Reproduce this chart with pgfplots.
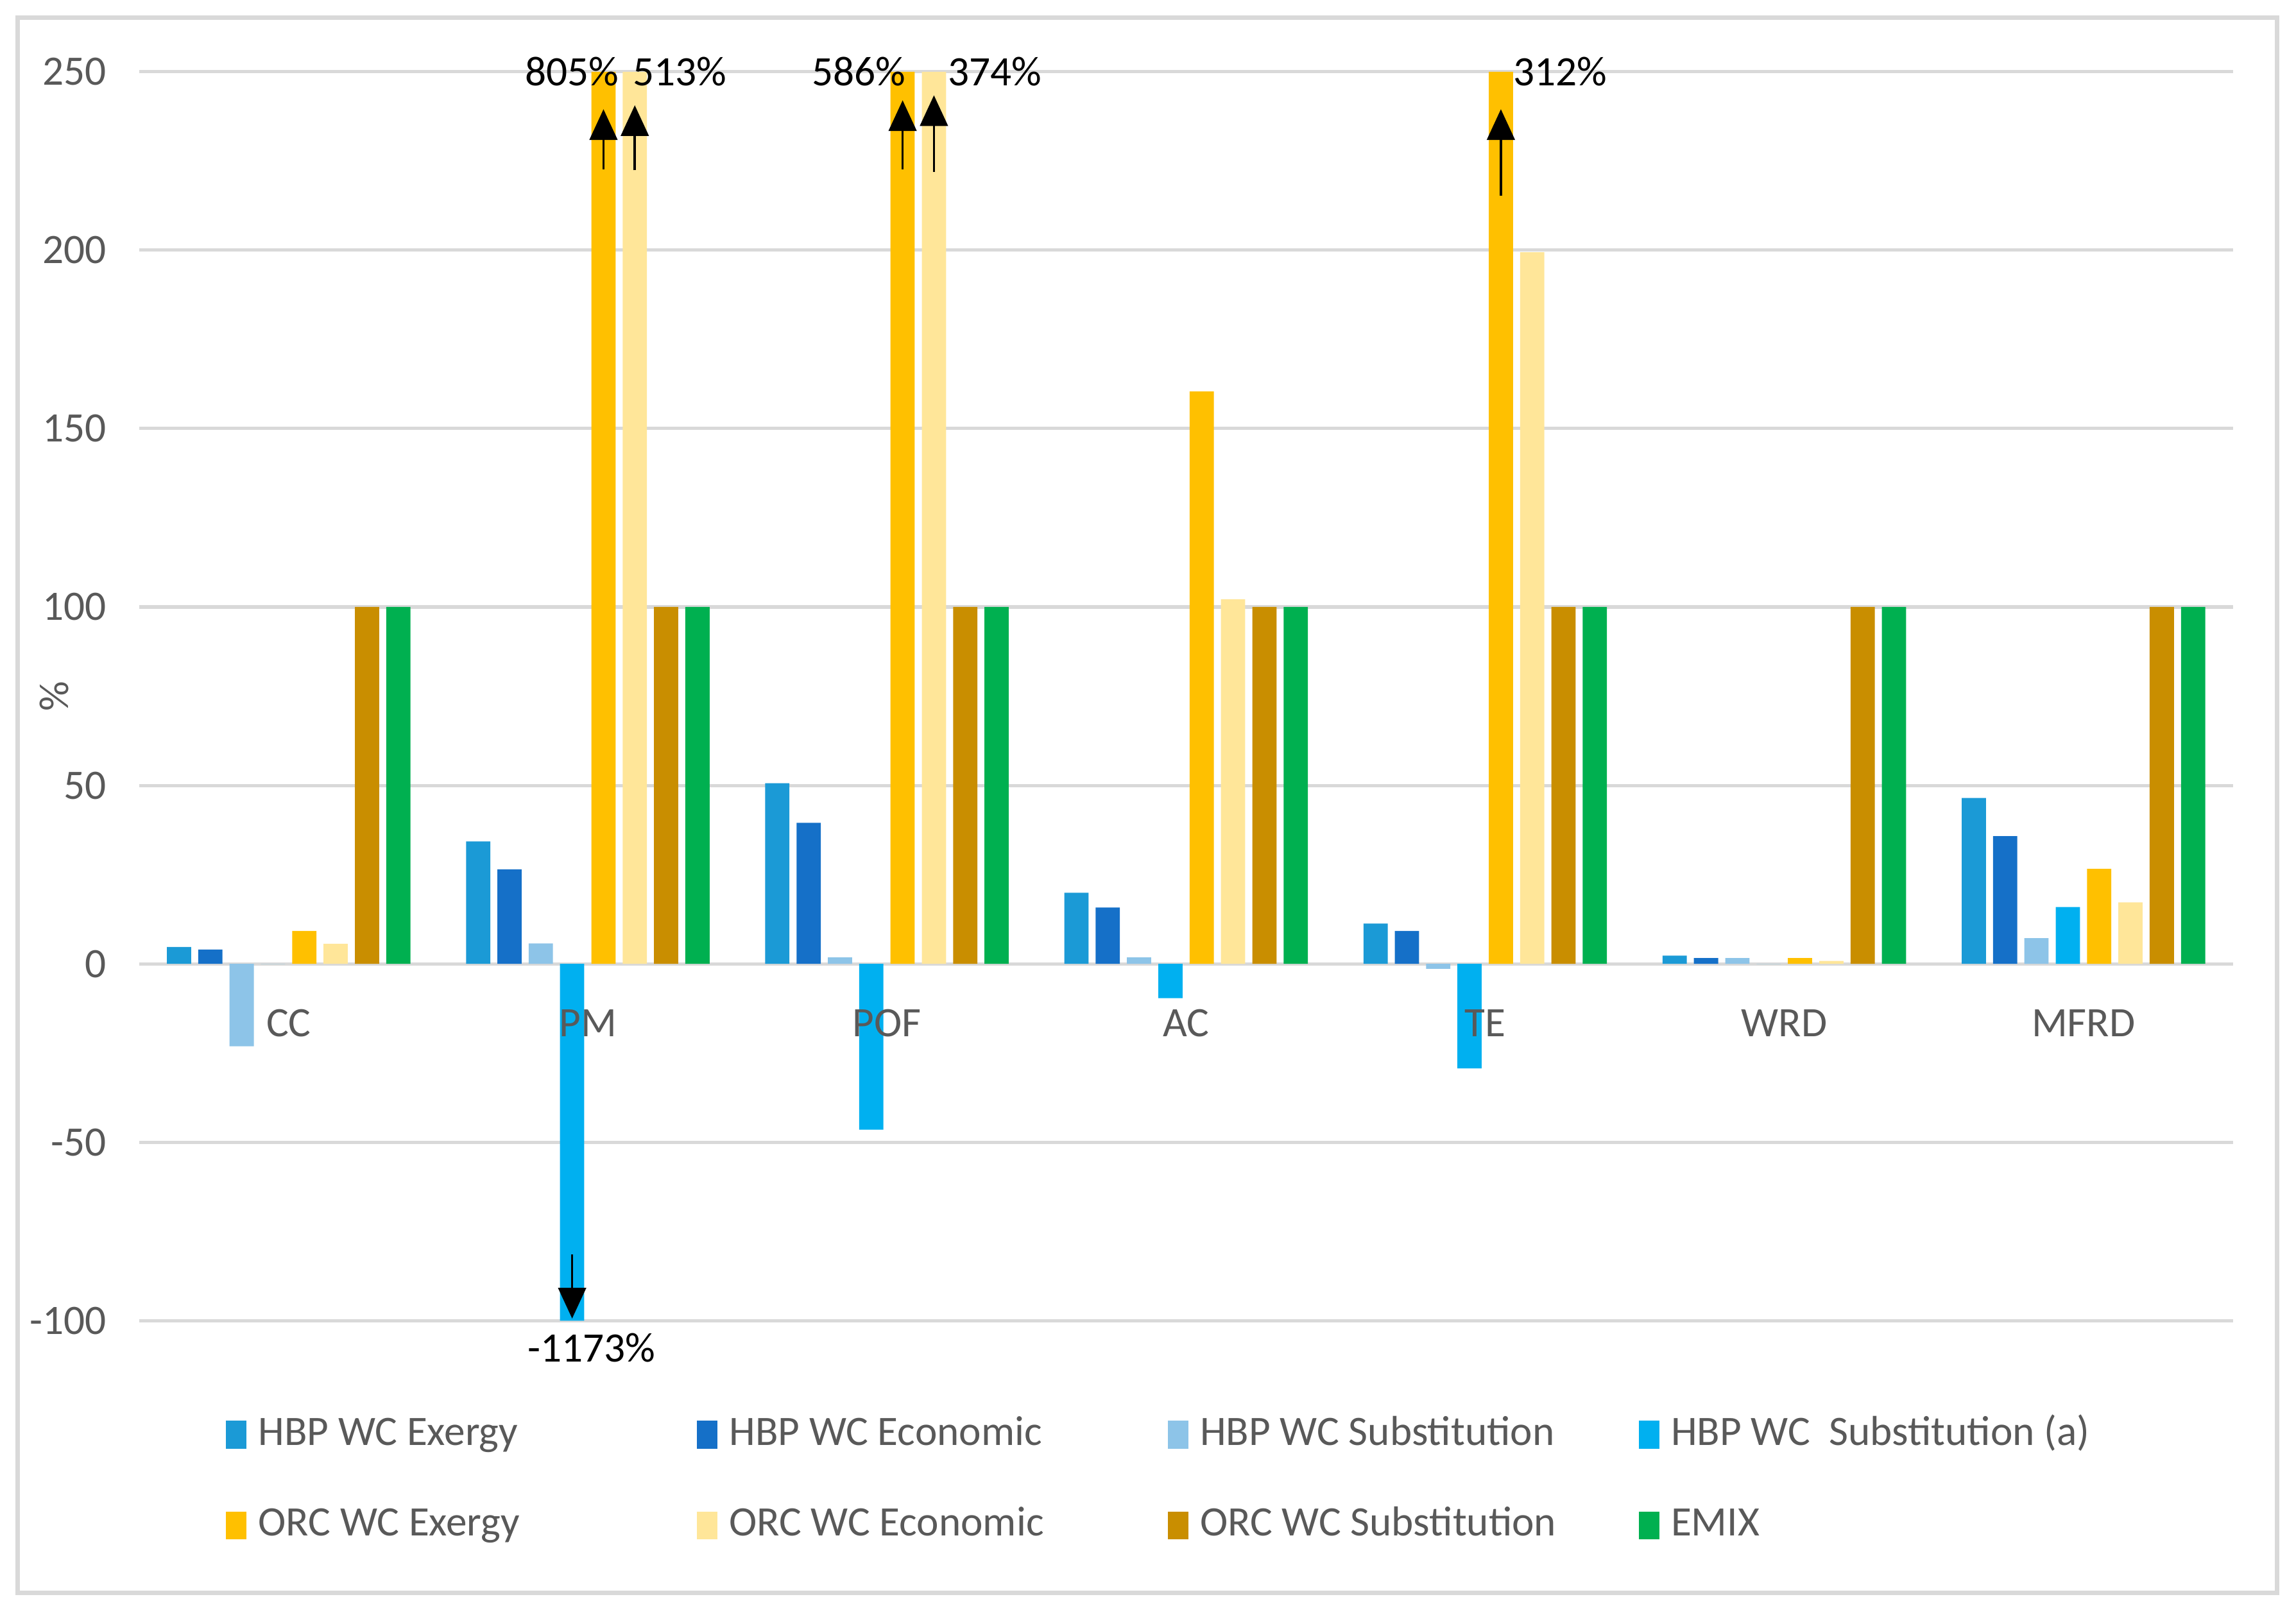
\documentclass[border=0pt]{standalone}
\usepackage{fontspec}
\setmainfont{Carlito}
\usepackage{pgfplots}
\pgfplotsset{compat=1.18}
\usepackage{pgfplotstable}
\usetikzlibrary{arrows.meta}

\definecolor{cA}{RGB}{27,154,214}
\definecolor{cB}{RGB}{21,112,200}
\definecolor{cC}{RGB}{141,196,232}
\definecolor{cD}{RGB}{0,176,240}
\definecolor{cE}{RGB}{255,192,0}
\definecolor{cF}{RGB}{255,230,153}
\definecolor{cG}{RGB}{201,142,0}
\definecolor{cH}{RGB}{0,176,80}
\definecolor{gridgray}{RGB}{217,217,217}
\definecolor{txtgray}{RGB}{89,89,89}

\newcommand{\chartfont}{\fontsize{14.3}{17}\selectfont}
\newcommand{\lb}[1]{\makebox[149.8pt][l]{\hspace{2pt}#1}}

\pgfplotstableread{
x   e1    e2    e3     e4     o1     o2     o3   em
0   4.7   4.0   -23.1  0      9.2    5.6    100  100
1   34.3  26.5  5.7    -100   250    250    100  100
2   50.6  39.5  1.8    -46.5  250    250    100  100
3   19.9  15.8  1.8    -9.6   160.4  102.2  100  100
4   11.3  9.2   -1.4   -29.3  250    199.4  100  100
5   2.3   1.6   1.6    0      1.6    0.8    100  100
6   46.5  35.8  7.2    15.9   26.6   17.2   100  100
}\data

\pgfplotsset{
  layers/mylayers/.define layer set={axis background,axis grid,main,axis ticks,axis lines,axis tick labels,axis descriptions,axis foreground}{/pgfplots/layers/standard},
}

\begin{document}
\begin{tikzpicture}
\begin{axis}[
  set layers=mylayers,
  width=715pt, height=426.5pt, scale only axis,
  xmin=-0.5, xmax=6.5, ymin=-100, ymax=250,
  clip=false,
  ybar, bar width=0.081,
  legend image code/.code={\fill[#1] (0pt,-4.75pt) rectangle (7pt,4.75pt);},
  axis line style={draw=none}, tick style={draw=none},
  xtick={0,1,2,3,4,5,6},
  xticklabels={CC,PM,POF,AC,TE,WRD,MFRD},
  xticklabel style={anchor=center, yshift=105.9pt, text=txtgray, font=\chartfont},
  ytick={-100,-50,0,50,100,150,200,250},
  yticklabels={-100,-50,0,50,100,150,200,250},
  yticklabel style={xshift=-7.7pt, text=txtgray, font=\chartfont},
  ymajorgrids, grid style={gridgray, line width=1.1pt},
  ylabel={\%},
  every axis y label/.style={at={(axis description cs:0,0.5)}, rotate=90, anchor=center, yshift=29pt, text=txtgray, font=\chartfont},
  legend columns=4,
  legend style={at={(axis description cs:0,0)}, anchor=north west, xshift=29.5pt, yshift=-30.25pt,
    draw=none, fill=none, inner sep=0pt, row sep=14pt, font=\chartfont, text=txtgray,
    nodes={text height=10pt, text depth=3pt}},
]
\addplot[fill=cA, draw=none, bar shift=-0.3665] table[x=x,y=e1]{\data};
\addlegendentry{\lb{HBP WC Exergy}}
\addplot[fill=cB, draw=none, bar shift=-0.2618] table[x=x,y=e2]{\data};
\addlegendentry{\lb{HBP WC Economic}}
\addplot[fill=cC, draw=none, bar shift=-0.1571] table[x=x,y=e3]{\data};
\addlegendentry{\lb{HBP WC Substitution}}
\addplot[fill=cD, draw=none, bar shift=-0.0524] table[x=x,y=e4]{\data};
\addlegendentry{\lb{HBP WC~ Substitution (a)}}
\addplot[fill=cE, draw=none, bar shift=0.0524] table[x=x,y=o1]{\data};
\addlegendentry{\lb{ORC WC Exergy}}
\addplot[fill=cF, draw=none, bar shift=0.1571] table[x=x,y=o2]{\data};
\addlegendentry{\lb{ORC WC Economic}}
\addplot[fill=cG, draw=none, bar shift=0.2618] table[x=x,y=o3]{\data};
\addlegendentry{\lb{ORC WC Substitution}}
\addplot[fill=cH, draw=none, bar shift=0.3665] table[x=x,y=em]{\data};
\addlegendentry{\lb{EMIX}}

% arrows for clipped bars
\draw[-{Triangle[width=9.5pt,length=10.5pt]}, line width=0.8pt] (axis cs:1.0524,222.7) -- (axis cs:1.0524,239.5);
\draw[-{Triangle[width=9.5pt,length=10.5pt]}, line width=0.8pt] (axis cs:1.1571,222.4) -- (axis cs:1.1571,240.6);
\draw[-{Triangle[width=9.5pt,length=10.5pt]}, line width=0.8pt] (axis cs:2.0524,222.7) -- (axis cs:2.0524,242);
\draw[-{Triangle[width=9.5pt,length=10.5pt]}, line width=0.8pt] (axis cs:2.1571,222.0) -- (axis cs:2.1571,243.4);
\draw[-{Triangle[width=9.5pt,length=10.5pt]}, line width=0.8pt] (axis cs:4.0524,215.3) -- (axis cs:4.0524,239.5);
\draw[-{Triangle[width=9.5pt,length=10.5pt]}, line width=0.8pt] (axis cs:0.9476,-81.5) -- (axis cs:0.9476,-99.4);

\node[anchor=east, inner sep=0pt, font=\chartfont] at (axis cs:1.105,250) {805\%};
\node[anchor=west, inner sep=0pt, font=\chartfont] at (axis cs:1.149,250) {513\%};
\node[anchor=east, inner sep=0pt, font=\chartfont] at (axis cs:2.064,250) {586\%};
\node[anchor=west, inner sep=0pt, font=\chartfont] at (axis cs:2.202,250) {374\%};
\node[anchor=west, inner sep=0pt, font=\chartfont] at (axis cs:4.092,250) {312\%};
\node[anchor=center, inner sep=0pt, font=\chartfont] at (axis cs:1.012,-107.6) {-1173\%};

% outer frame and page
\draw[gridgray, line width=1.5pt] ([xshift=-41.5pt,yshift=-93pt]rel axis cs:0,0) rectangle ([xshift=15pt,yshift=18.5pt]rel axis cs:1,1);
\path ([xshift=-47.5pt,yshift=-100.5pt]rel axis cs:0,0) rectangle ([xshift=21.5pt,yshift=24.5pt]rel axis cs:1,1);
\end{axis}
\end{tikzpicture}
\end{document}
